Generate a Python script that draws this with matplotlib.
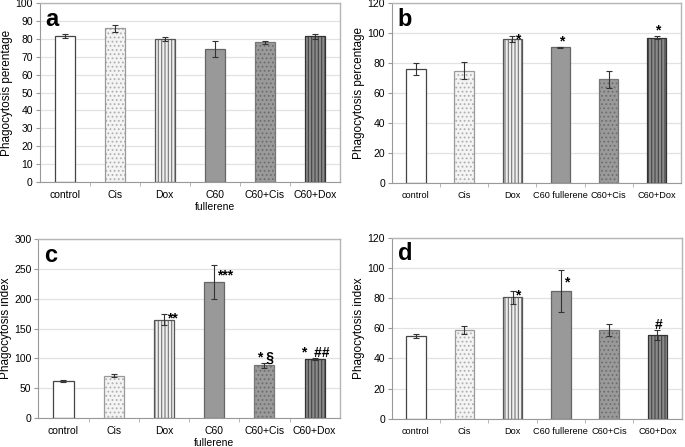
import numpy as np
import matplotlib
matplotlib.use('Agg')
import matplotlib.pyplot as plt

plt.rcParams['font.family'] = ['Liberation Sans', 'DejaVu Sans']
plt.rcParams['hatch.linewidth'] = 0.8

# 数据
groups_wrap = ["control", "Cis", "Dox", "C60\nfullerene", "C60+Cis", "C60+Dox"]
groups_flat = ["control", "Cis", "Dox", "C60 fullerene", "C60+Cis", "C60+Dox"]

a_vals = [81.5, 86.0, 80.0, 74.5, 78.0, 81.5]
a_errs = [1.0, 2.0, 1.2, 4.5, 1.0, 1.5]
a_marks = ["", "", "", "", "", ""]

b_vals = [76.0, 75.0, 96.0, 90.5, 69.0, 97.0]
b_errs = [4.0, 6.0, 2.0, 0.5, 6.0, 1.0]
b_marks = ["", "", "*", "*", "", "*"]

c_vals = [62.0, 71.0, 165.0, 228.0, 88.0, 99.0]
c_errs = [2.0, 2.5, 9.0, 29.0, 4.0, 1.5]
c_marks = ["", "", "**", "***", "* §", "*  ##"]

d_vals = [55.0, 59.0, 80.5, 84.5, 59.0, 55.5]
d_errs = [1.2, 2.5, 4.5, 14.0, 4.0, 3.5]
d_marks = ["", "", "*", "*", "", "#"]

# 每组柱子的样式: (填充色, 花纹, 花纹颜色, 边框色)
styles = [
    ("#ffffff", None, None, "#444444"),
    ("#f4f4f4", "....", "#b0b0b0", "#9a9a9a"),
    ("#eeeeee", "|||||", "#777777", "#555555"),
    ("#999999", None, None, "#666666"),
    ("#9a9a9a", "....", "#6e6e6e", "#777777"),
    ("#8a8a8a", "|||||", "#444444", "#333333"),
]


def draw_panel(ax, labels, vals, errs, marks, ymax, ystep, ylabel, letter,
               mark_side, xfs):
    x = np.arange(len(vals))
    w = 0.4
    for i in range(len(vals)):
        fc, hatch, hc, ec = styles[i]
        ax.bar(x[i], vals[i], w, color=fc, hatch=hatch, edgecolor=hc if hc else fc,
               linewidth=0, zorder=2)
        ax.bar(x[i], vals[i], w, fill=False, edgecolor=ec, linewidth=0.9, zorder=3)
    ax.errorbar(x, vals, yerr=errs, fmt='none', ecolor='#333333', elinewidth=0.8,
                capsize=2, capthick=0.8, zorder=4)
    for i, m in enumerate(marks):
        if not m:
            continue
        if mark_side[i]:
            # 星号放在误差线右侧
            yc = vals[i] + min(errs[i], 0.5 * errs[i] + 0.01 * ymax)
            ax.text(x[i] + 0.06, yc - 0.02 * ymax, m, ha='left', va='center',
                    fontsize=10, fontweight='bold', zorder=5)
        else:
            ax.text(x[i] + 0.02, vals[i] + errs[i] - 0.01 * ymax, m,
                    ha='center', va='bottom', fontsize=10, fontweight='bold', zorder=5)
    ax.set_xlim(-0.5, len(vals) - 0.5)
    ax.set_ylim(0, ymax)
    ax.set_yticks(np.arange(0, ymax + 1, ystep))
    ax.set_xticks(x)
    ax.set_xticklabels(labels, fontsize=xfs)
    ax.set_xticks(np.arange(0.5, len(vals) - 0.5, 1), minor=True)
    ax.tick_params(axis='x', which='major', length=0, pad=6)
    ax.tick_params(axis='x', which='minor', length=3, color='#aaaaaa')
    ax.tick_params(axis='y', labelsize=7.5, length=3, pad=2, color='#999999')
    ax.yaxis.grid(True, color='#e2e2e2', linewidth=0.9, zorder=0)
    ax.set_axisbelow(True)
    for s in ['top', 'right']:
        ax.spines[s].set_color('#b5b5b5')
        ax.spines[s].set_linewidth(1.0)
    for s in ['left', 'bottom']:
        ax.spines[s].set_color('#999999')
        ax.spines[s].set_linewidth(0.8)
    ax.set_ylabel(ylabel, fontsize=8.5, labelpad=1.5)
    ax.text(0.02, 0.975, letter, transform=ax.transAxes, fontsize=17,
            fontweight='bold', ha='left', va='top')


fig = plt.figure(figsize=(6.85, 4.47), dpi=100)
ax_a = fig.add_axes([0.058, 0.593, 0.438, 0.400])
ax_b = fig.add_axes([0.572, 0.591, 0.422, 0.402])
ax_c = fig.add_axes([0.056, 0.065, 0.440, 0.400])
ax_d = fig.add_axes([0.572, 0.063, 0.423, 0.405])

draw_panel(ax_a, groups_wrap, a_vals, a_errs, a_marks, 100, 10,
           "Phagocytosis perentage", "a", [False] * 6, 7.5)
draw_panel(ax_b, groups_flat, b_vals, b_errs, b_marks, 120, 20,
           "Phagocytosis percentage", "b", [True, True, True, False, False, False], 6.6)
draw_panel(ax_c, groups_wrap, c_vals, c_errs, c_marks, 300, 50,
           "Phagocytosis index", "c", [True, True, True, True, False, False], 7.5)
draw_panel(ax_d, groups_flat, d_vals, d_errs, d_marks, 120, 20,
           "Phagocytosis index", "d", [True, True, True, True, False, False], 6.6)

fig.savefig("out.png", dpi=100)
